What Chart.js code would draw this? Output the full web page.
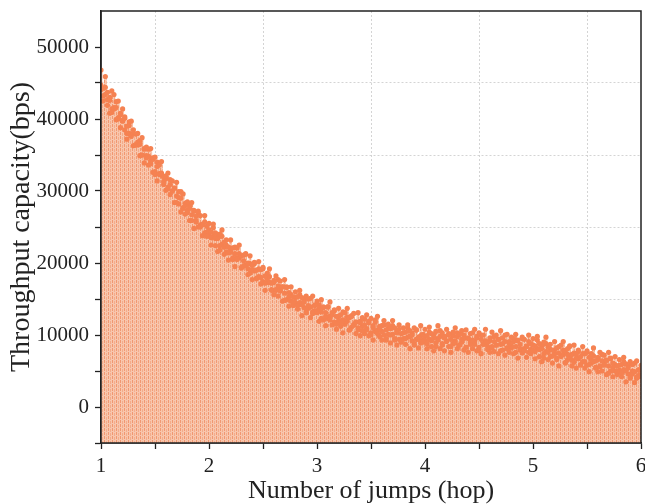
<!DOCTYPE html>
<html><head><meta charset="utf-8">
<script src="https://cdn.jsdelivr.net/npm/chart.js@4.4.0/dist/chart.umd.min.js"></script>
<style>html,body{margin:0;padding:0;background:#fff;}#wrap{width:645px;height:504px;}</style>
</head><body><div id="wrap"><canvas id="c" width="645" height="504"></canvas></div>
<script>
// Number of jumps (hop)
const hops = [
1,1.02,1.04,1.06,1.08,1.1,1.12,1.14,1.16,1.18,
1.2,1.22,1.24,1.26,1.28,1.3,1.32,1.34,1.36,1.38,
1.4,1.42,1.44,1.46,1.48,1.5,1.52,1.54,1.56,1.58,
1.6,1.62,1.64,1.66,1.68,1.7,1.72,1.74,1.76,1.78,
1.8,1.82,1.84,1.86,1.88,1.9,1.92,1.94,1.96,1.98,
2,2.02,2.04,2.06,2.08,2.1,2.12,2.14,2.16,2.18,
2.2,2.22,2.24,2.26,2.28,2.3,2.32,2.34,2.36,2.38,
2.4,2.42,2.44,2.46,2.48,2.5,2.52,2.54,2.56,2.58,
2.6,2.62,2.64,2.66,2.68,2.7,2.72,2.74,2.76,2.78,
2.8,2.82,2.84,2.86,2.88,2.9,2.92,2.94,2.96,2.98,
3,3.02,3.04,3.06,3.08,3.1,3.12,3.14,3.16,3.18,
3.2,3.22,3.24,3.26,3.28,3.3,3.32,3.34,3.36,3.38,
3.4,3.42,3.44,3.46,3.48,3.5,3.52,3.54,3.56,3.58,
3.6,3.62,3.64,3.66,3.68,3.7,3.72,3.74,3.76,3.78,
3.8,3.82,3.84,3.86,3.88,3.9,3.92,3.94,3.96,3.98,
4,4.02,4.04,4.06,4.08,4.1,4.12,4.14,4.16,4.18,
4.2,4.22,4.24,4.26,4.28,4.3,4.32,4.34,4.36,4.38,
4.4,4.42,4.44,4.46,4.48,4.5,4.52,4.54,4.56,4.58,
4.6,4.62,4.64,4.66,4.68,4.7,4.72,4.74,4.76,4.78,
4.8,4.82,4.84,4.86,4.88,4.9,4.92,4.94,4.96,4.98,
5,5.02,5.04,5.06,5.08,5.1,5.12,5.14,5.16,5.18,
5.2,5.22,5.24,5.26,5.28,5.3,5.32,5.34,5.36,5.38,
5.4,5.42,5.44,5.46,5.48,5.5,5.52,5.54,5.56,5.58,
5.6,5.62,5.64,5.66,5.68,5.7,5.72,5.74,5.76,5.78,
5.8,5.82,5.84,5.86,5.88,5.9,5.92,5.94,5.96,5.98,
6
];
// Throughput capacity (bps): upper samples of the point cloud
const throughputA = [
46800,44300,45900,43700,42600,43900,43400,41600,42500,40600,
41400,40100,39000,39600,39700,38000,37900,38000,36500,37400,
35900,36100,34800,35900,34600,34700,33400,33600,34100,31900,
32100,32500,30900,31400,30400,31200,29900,29000,29600,28000,
28500,27600,28400,27300,26500,27200,26600,25300,26600,25100,
25500,24300,25400,24200,23400,24000,24600,22900,23200,22200,
23200,22100,21300,22100,22500,21000,21100,21300,20000,21000,
19700,20100,19000,20200,19100,19400,18200,18600,19200,17200,
17600,18200,16800,17500,16700,17700,16600,15900,16700,15300,
16000,15300,16200,15200,14600,15400,15000,13900,15400,14200,
14700,13700,14900,13900,13100,13900,14600,13100,13500,12600,
13700,12800,12100,13100,13700,12400,12600,13000,11800,13100,
11900,12400,11400,12800,11900,12300,11300,11800,12600,10800,
11300,12000,10700,11500,10900,12000,11000,10500,11400,10200,
11000,10400,11400,10600,10000,11000,10700,9700,11300,10100,
10800,9900,11100,10200,9600,10500,11300,9800,10300,9600,
10800,10000,9400,10400,11000,9800,10100,10600,9500,10700,
9600,10200,9300,10800,9800,10300,9400,10000,10800,9000,
9600,10400,9100,10000,9400,10600,9600,9100,10100,8800,
9700,9100,10100,9300,8700,9700,9400,8400,10000,8800,
9500,8500,9800,8800,8100,9000,9700,8300,8700,7900,
9100,8200,7500,8600,9100,7800,8100,8500,7300,8600,
7400,7900,7000,8400,7400,7800,6900,7400,8200,6400,
6900,7600,6400,7200,6500,7600,6700,6100,7000,5700,
6600,5900,6900,6000,5400,6300,5900,4900,6400,5200,
5800
];
// Throughput capacity (bps): middle samples of the point cloud
const throughputC = [
44700,43200,44400,42700,43000,40900,41600,42400,40200,40800,
39800,40300,38000,39100,37600,38500,36400,36800,37000,35000,
35800,34600,35800,34200,34400,32300,34000,32400,32500,31300,
31700,30300,31600,30000,30400,28400,29100,29900,27700,28300,
27300,28000,25900,27200,25900,27000,25000,25400,25700,23700,
24600,23500,24900,23400,23800,21800,23700,22200,22500,21400,
22000,20700,22200,20700,21300,19400,20300,21200,19200,19900,
19100,19900,17900,19200,18000,19200,17200,17800,18100,16300,
17300,16300,17700,16300,16700,14800,16700,15300,15600,14600,
15200,14100,15600,14200,14900,13100,14100,15100,13200,14100,
13300,14200,12300,13800,12600,13900,12100,12800,13300,11500,
12600,11700,13200,11900,12500,10700,12700,11400,11800,11000,
11700,10600,12200,10900,11700,10000,11000,12100,10200,11200,
10500,11400,9500,11000,10000,11300,9500,10300,10800,9200,
10300,9500,11000,9800,10300,8600,10700,9400,9900,9000,
9800,8800,10400,9200,10000,8400,9500,10600,8800,9800,
9200,10200,8400,9900,8900,10300,8600,9400,10000,8300,
9500,8700,10300,9100,9600,7900,10000,8800,9200,8400,
9200,8200,9800,8600,9400,7800,8800,10000,8200,9100,
8500,9500,7600,9200,8100,9500,7800,8500,9100,7400,
8600,7700,9300,8000,8500,6800,8800,7600,8000,7100,
7900,6800,8400,7200,7900,6200,7300,8400,6500,7500,
6800,7700,5900,7400,6300,7600,5900,6600,7100,5500,
6600,5700,7300,6000,6500,4700,6800,5500,5900,5000,
5800,4700,6300,5000,5700,4000,5000,6100,4200,5100,
4400
];
// Throughput capacity (bps): lower samples of the point cloud
const throughputB = [
44100,42500,43400,41900,40800,41400,41400,39900,40000,38800,
39700,38500,37200,38000,37900,36300,36400,36400,34900,35000,
33900,34900,33600,33800,32600,32700,31400,32300,32200,30900,
30100,30500,29500,30000,28400,29300,28200,27100,27600,26800,
27000,25900,26700,24800,25700,25000,25300,23800,24200,24300,
23900,22500,23700,22400,21600,22400,22600,21200,21500,20400,
21500,20500,19500,20500,20700,19300,19600,19700,18400,18600,
17700,18900,17800,18100,17100,17400,16200,17300,17300,16200,
15600,16200,15400,16100,14700,15800,14900,14000,14700,14100,
14500,13600,14500,12700,13800,13200,13700,12400,13000,13400,
13100,11900,13200,12100,11300,12300,12600,11400,11800,10800,
12000,11200,10300,11500,11900,10700,11100,11400,10200,10700,
9900,11200,10200,10700,9900,10300,9300,10500,10700,9800,
9300,10000,9300,10100,8900,10100,9300,8600,9400,9000,
9500,8700,9700,8100,9200,8800,9400,8200,8900,9300,
9200,8100,9400,8400,7800,8900,9300,8100,8600,7800,
9100,8400,7600,8800,9200,8100,8600,9000,7900,8300,
7600,9000,8100,8700,7800,8300,7400,8700,8900,8000,
7600,8400,7700,8600,7400,8700,7900,7200,8100,7600,
8200,7400,8400,6800,7900,7500,8100,6900,7600,8000,
7900,6700,8100,7000,6300,7400,7700,6600,7000,6100,
7400,6600,5700,7000,7300,6100,6600,6900,5700,6200,
5400,6700,5800,6300,5400,5800,4900,6100,6300,5400,
4900,5600,5000,5800,4500,5700,5000,4200,5000,4500,
5100,4200,5200,3500,4600,4100,4600,3400,4000,4400,
4200
];
const yMin = -5000, yMax = 55000, yStep = 5000, yLabelStep = 10000, yLabelMax = 50000;
const xMin = 1, xMax = 6, xStep = 0.5;

Chart.defaults.font.family = "'Liberation Serif', 'Times New Roman', serif";
Chart.defaults.color = '#222';

// texture for the drop lines
const pc = document.createElement('canvas');
pc.width = 4; pc.height = 4;
const p = pc.getContext('2d');
p.fillStyle = 'rgb(248,198,173)'; p.fillRect(0,0,4,4);
p.fillStyle = 'rgb(241,152,113)'; p.fillRect(0,0,1,3);
p.fillStyle = 'rgb(244,172,138)'; p.fillRect(2,1,1,3);
const stemPattern = document.getElementById('c').getContext('2d').createPattern(pc, 'repeat');

const stems = hops.map((x, i) => ({x: x, y: [yMin, Math.max(throughputA[i], throughputB[i], throughputC[i])]}));
const toPts = arr => hops.map((x, i) => ({x: x, y: arr[i]}));

const frame = {
  id: 'frame',
  afterDatasetsDraw(chart) {
    const {ctx, chartArea: a} = chart;
    ctx.save();
    ctx.strokeStyle = '#222';
    ctx.lineWidth = 1.5;
    ctx.strokeRect(a.left, a.top, a.right - a.left, a.bottom - a.top);
    ctx.restore();
  }
};

const gridGray = 'rgba(205,205,205,0.85)';
const clear = 'rgba(0,0,0,0)';
const dotColor = 'rgb(245,130,82)';
const noPad = s => { s.paddingTop = 0; s.paddingBottom = 0; s.paddingLeft = 0; s.paddingRight = 0; };

new Chart(document.getElementById('c'), {
  type: 'bar',
  data: {
    datasets: [
      {type: 'scatter', data: toPts(throughputA), pointRadius: 2.6, pointBackgroundColor: dotColor, pointBorderWidth: 0, showLine: false, order: 1},
      {type: 'scatter', data: toPts(throughputC), pointRadius: 2.6, pointBackgroundColor: dotColor, pointBorderWidth: 0, showLine: false, order: 1},
      {type: 'scatter', data: toPts(throughputB), pointRadius: 2.6, pointBackgroundColor: dotColor, pointBorderWidth: 0, showLine: false, order: 1},
      {type: 'bar', data: stems, backgroundColor: stemPattern, borderWidth: 0, barPercentage: 1, categoryPercentage: 1, grouped: false, order: 2}
    ]
  },
  options: {
    responsive: false,
    animation: false,
    devicePixelRatio: 1,
    events: [],
    layout: {padding: {top: 11, right: 4, left: 0, bottom: 0}},
    plugins: {legend: {display: false}, tooltip: {enabled: false}},
    scales: {
      x: {
        type: 'linear', min: xMin, max: xMax, offset: false,
        afterFit(s) { s.height = 61; noPad(s); },
        ticks: {stepSize: xStep, autoSkip: false, maxRotation: 0, padding: 5,
          font: {size: 21}, color: '#222',
          callback: v => Number.isInteger(v) ? String(v) : ''},
        grid: {offset: false, lineWidth: 1, tickLength: 6, tickWidth: 1.3,
          color: c => (c.tick && !Number.isInteger(c.tick.value)) ? gridGray : clear,
          tickColor: '#222'},
        border: {display: true, color: '#222', width: 1.5, dash: [2, 2]},
        title: {display: true, text: 'Number of jumps (hop)', font: {size: 26, lineHeight: 1.0}, color: '#222', padding: {top: 0, bottom: 0}}
      },
      y: {
        min: yMin, max: yMax,
        afterFit(s) { s.width = 101; noPad(s); },
        ticks: {stepSize: yStep, autoSkip: false, padding: 6, font: {size: 21}, color: '#222',
          callback: v => (v % yLabelStep === 0 && v >= 0 && v <= yLabelMax) ? String(v) : ''},
        grid: {lineWidth: 1, tickLength: 6, tickWidth: 1.3,
          color: c => (c.tick && c.tick.value % yLabelStep !== 0 && c.tick.value > yMin && c.tick.value < yMax) ? gridGray : clear,
          tickColor: c => (c.tick && c.tick.value === yMax) ? clear : '#222'},
        border: {display: true, color: '#222', width: 1.5, dash: [2, 2]},
        title: {display: true, text: 'Throughput capacity(bps)', font: {size: 28, lineHeight: 1.0}, color: '#222', padding: {top: 8, bottom: 0}}
      }
    }
  },
  plugins: [frame]
});
</script>
</body></html>
